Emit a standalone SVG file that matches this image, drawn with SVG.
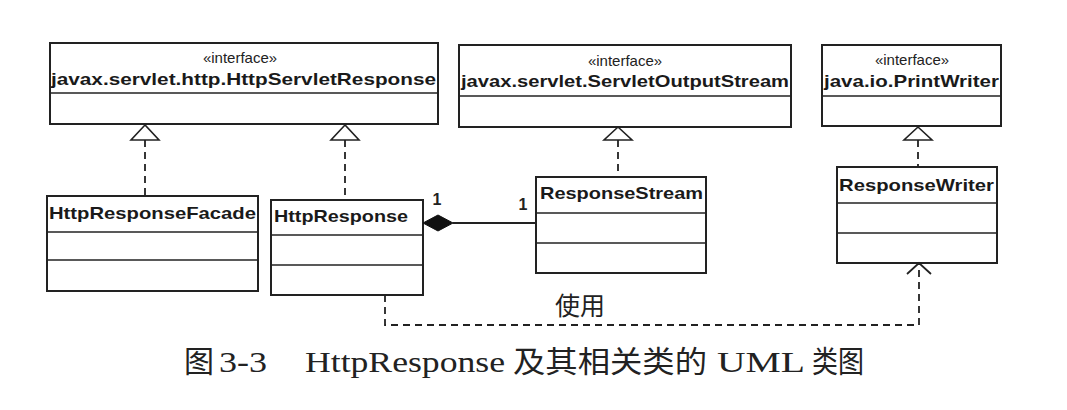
<svg xmlns="http://www.w3.org/2000/svg" width="1067" height="410" viewBox="0 0 1067 410">
<style>
.box{fill:#fff;stroke:#222;stroke-width:2}
.div{stroke:#222;stroke-width:1.6}
.st{font-family:"Liberation Sans",Arial,sans-serif;font-size:15px;fill:#222;text-anchor:middle}
.nm{font-family:"Liberation Sans",Arial,sans-serif;font-size:17px;font-weight:bold;fill:#1a1a1a}
.dash{fill:none;stroke:#222;stroke-width:1.8;stroke-dasharray:7,5}
.tri{fill:#fff;stroke:#222;stroke-width:1.6}
.mul{font-family:"Liberation Sans",Arial,sans-serif;font-size:16px;font-weight:bold;fill:#222;text-anchor:middle}
.cap{font-family:"Liberation Serif","Noto Sans CJK SC",serif;font-size:30px;fill:#222}
</style>
<rect width="1067" height="410" fill="#fff"/>
<g id="HttpServletResponse">
<rect class="box" x="50" y="43" width="388" height="81"/>
<line class="div" x1="50" y1="93" x2="438" y2="93"/>
<text class="st" x="240" y="63">«interface»</text>
<text class="nm" x="51" y="85" textLength="385" lengthAdjust="spacingAndGlyphs">javax.servlet.http.HttpServletResponse</text>
</g>
<g id="ServletOutputStream">
<rect class="box" x="459" y="45" width="332" height="82"/>
<line class="div" x1="459" y1="96" x2="791" y2="96"/>
<text class="st" x="625" y="66">«interface»</text>
<text class="nm" x="461" y="87" textLength="328" lengthAdjust="spacingAndGlyphs">javax.servlet.ServletOutputStream</text>
</g>
<g id="PrintWriter">
<rect class="box" x="822" y="45" width="179" height="81"/>
<line class="div" x1="822" y1="96" x2="1001" y2="96"/>
<text class="st" x="912" y="65">«interface»</text>
<text class="nm" x="824" y="87" textLength="175" lengthAdjust="spacingAndGlyphs">java.io.PrintWriter</text>
</g>
<g id="HttpResponseFacade">
<rect class="box" x="47" y="196" width="211" height="95"/>
<line class="div" x1="47" y1="232" x2="258" y2="232"/>
<line class="div" x1="47" y1="260" x2="258" y2="260"/>
<text class="nm" x="49" y="219" textLength="207" lengthAdjust="spacingAndGlyphs">HttpResponseFacade</text>
</g>
<g id="HttpResponse">
<rect class="box" x="271" y="200" width="152" height="95"/>
<line class="div" x1="271" y1="235" x2="423" y2="235"/>
<line class="div" x1="271" y1="265" x2="423" y2="265"/>
<text class="nm" x="274" y="222" textLength="134" lengthAdjust="spacingAndGlyphs">HttpResponse</text>
</g>
<g id="ResponseStream">
<rect class="box" x="536" y="177" width="170" height="96"/>
<line class="div" x1="536" y1="213" x2="706" y2="213"/>
<line class="div" x1="536" y1="243" x2="706" y2="243"/>
<text class="nm" x="540" y="199" textLength="163" lengthAdjust="spacingAndGlyphs">ResponseStream</text>
</g>
<g id="ResponseWriter">
<rect class="box" x="837" y="167" width="160" height="96"/>
<line class="div" x1="837" y1="203" x2="997" y2="203"/>
<line class="div" x1="837" y1="233" x2="997" y2="233"/>
<text class="nm" x="839" y="191" textLength="155" lengthAdjust="spacingAndGlyphs">ResponseWriter</text>
</g>
<g id="connectors">
<line class="dash" x1="145" y1="140" x2="145" y2="196"/>
<polygon class="tri" points="145,125 131,140 159,140"/>
<line class="dash" x1="345" y1="140" x2="345" y2="200"/>
<polygon class="tri" points="345,125 331,140 359,140"/>
<line class="dash" x1="618" y1="140" x2="618" y2="177"/>
<polygon class="tri" points="618,127 604,140 632,140"/>
<line class="dash" x1="918" y1="140" x2="918" y2="167"/>
<polygon class="tri" points="918,127 904,140 932,140"/>
<line x1="453" y1="223" x2="536" y2="223" stroke="#222" stroke-width="1.8"/>
<polygon points="423,223 438,215 453,223 438,231" fill="#111" stroke="#111" stroke-width="1"/>
<text class="mul" x="437" y="205">1</text>
<text class="mul" x="523" y="210">1</text>
<polyline class="dash" points="385,295 385,325 919,325 919,264"/>
<polyline points="907,274 919,263 931,274" fill="none" stroke="#222" stroke-width="1.8"/>
<text x="555" y="315" font-family="'Noto Sans CJK SC',sans-serif" font-size="25" fill="#222">使用</text>
</g>
<g id="caption">
<text class="cap" x="184" y="372">图</text>
<text class="cap" x="219" y="372" textLength="48" lengthAdjust="spacingAndGlyphs">3-3</text>
<text class="cap" x="305" y="372" textLength="200" lengthAdjust="spacingAndGlyphs">HttpResponse</text>
<text class="cap" x="513" y="372" textLength="194" lengthAdjust="spacingAndGlyphs">及其相关类的</text>
<text class="cap" x="717" y="372" textLength="88" lengthAdjust="spacingAndGlyphs">UML</text>
<text class="cap" x="812" y="372" textLength="52" lengthAdjust="spacingAndGlyphs">类图</text>
</g>
</svg>
